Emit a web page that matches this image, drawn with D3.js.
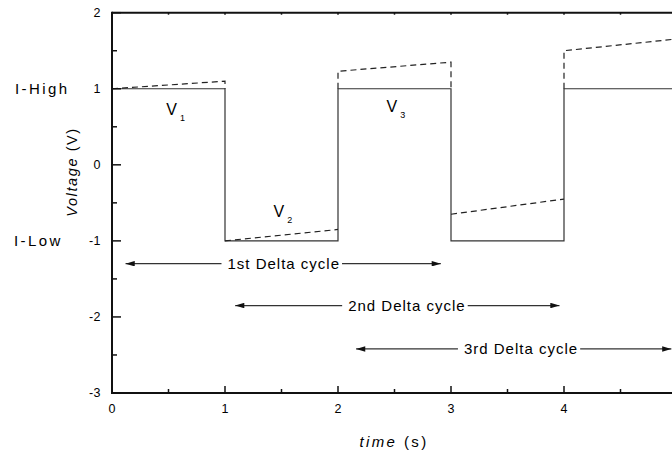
<!DOCTYPE html>
<html>
<head>
<meta charset="utf-8">
<script src="https://cdn.jsdelivr.net/npm/d3@7"></script>
<style>
  body { margin: 0; background: #fff; }
  svg { display: block; font-family: "Liberation Sans", Arial, sans-serif; }
</style>
</head>
<body>
<div id="chart"></div>
<script>
// square wave (current reversal) - solid line
const waveT = [0, 1, 1, 2, 2, 3, 3, 4, 4, 5];
const waveV = [1, 1, -1, -1, 1, 1, -1, -1, 1, 1];

// measured voltage with thermal drift - dashed pieces
const drift1 = [[0, 1], [1, 1.1], [1, 1]];
const drift2 = [[1, -1], [2, -0.85]];
const drift3 = [[2, 1], [2, 1.23], [3, 1.35], [3, 1]];
const drift4 = [[3, -0.65], [4, -0.45]];
const drift5 = [[4, 1], [4, 1.5], [5, 1.655]];

// V labels
const vNames = ["1", "2", "3"];
const vT = [0.48, 1.43, 2.43];
const vV = [0.65, -0.68, 0.69];

// delta cycle arrows
const cycleNames = ["1st Delta cycle", "2nd Delta cycle", "3rd Delta cycle"];
const cycleStart = [0.12, 1.09, 2.16];
const cycleEnd = [2.91, 3.96, 4.95];
const cycleV = [-1.3, -1.85, -2.42];
const cycleTextT = [1.52, 2.61, 3.62];

const yTicks = [-3, -2, -1, 0, 1, 2];
const yMinor = [-2.5, -1.5, -0.5, 0.5, 1.5];
const xTicks = [0, 1, 2, 3, 4];
const xMinor = [0.5, 1.5, 2.5, 3.5, 4.5];

const width = 672, height = 452;

const x = d3.scaleLinear().domain([0, 5]).range([112, 677]);
const y = d3.scaleLinear().domain([-3, 2]).range([393, 12.7]);

const svg = d3.select("#chart").append("svg")
  .attr("width", width)
  .attr("height", height);

// arrowhead
svg.append("defs").append("marker")
  .attr("id", "head")
  .attr("viewBox", "0 0 10 6")
  .attr("refX", 10).attr("refY", 3)
  .attr("markerWidth", 12).attr("markerHeight", 5.5)
  .attr("markerUnits", "userSpaceOnUse")
  .attr("orient", "auto-start-reverse")
  .append("path")
  .attr("d", "M0,0 L10,3 L0,6 Z")
  .attr("fill", "#111");

// square wave
const line = d3.line().x(d => x(d[0])).y(d => y(d[1]));
svg.append("path")
  .datum(waveT.map((t, i) => [t, waveV[i]]))
  .attr("d", line)
  .attr("fill", "none")
  .attr("stroke", "#333")
  .attr("stroke-width", 1.2);

// dashed drift pieces
[drift1, drift2, drift3, drift4, drift5].forEach(seg => {
  svg.append("path")
    .datum(seg)
    .attr("d", line)
    .attr("fill", "none")
    .attr("stroke", "#222")
    .attr("stroke-width", 1.2)
    .attr("stroke-dasharray", "6,4");
});

// axes
const ax = svg.append("g").attr("stroke", "#111").attr("fill", "none");
ax.append("line").attr("x1", x(0)).attr("x2", width).attr("y1", y(-3)).attr("y2", y(-3)).attr("stroke-width", 2);
ax.append("line").attr("x1", x(0)).attr("x2", width).attr("y1", y(2)).attr("y2", y(2)).attr("stroke-width", 2);
ax.append("line").attr("x1", x(0)).attr("x2", x(0)).attr("y1", y(2) - 1).attr("y2", y(-3) + 1).attr("stroke-width", 2);

yTicks.forEach(v => {
  ax.append("line").attr("x1", x(0)).attr("x2", x(0) + 9).attr("y1", y(v)).attr("y2", y(v)).attr("stroke-width", 1.5);
});
yMinor.forEach(v => {
  ax.append("line").attr("x1", x(0)).attr("x2", x(0) + 5).attr("y1", y(v)).attr("y2", y(v)).attr("stroke-width", 1.5);
});
xTicks.forEach(t => {
  ax.append("line").attr("x1", x(t)).attr("x2", x(t)).attr("y1", y(-3)).attr("y2", y(-3) - 7).attr("stroke-width", 1.5);
});
xMinor.forEach(t => {
  ax.append("line").attr("x1", x(t)).attr("x2", x(t)).attr("y1", y(-3)).attr("y2", y(-3) - 4).attr("stroke-width", 1.5);
});
xTicks.concat(xMinor).forEach(t => {
  ax.append("line").attr("x1", x(t)).attr("x2", x(t)).attr("y1", y(2)).attr("y2", y(2) + 2).attr("stroke-width", 1.5);
});

// tick labels
svg.selectAll(".ylab").data(yTicks).enter().append("text")
  .attr("x", 101).attr("y", d => y(d))
  .attr("dy", "0.35em")
  .attr("text-anchor", "end")
  .attr("font-size", 12.5)
  .attr("letter-spacing", 0.5)
  .text(d => d);

svg.selectAll(".xlab").data(xTicks).enter().append("text")
  .attr("x", d => x(d)).attr("y", 409)
  .attr("dy", "0.35em")
  .attr("text-anchor", "middle")
  .attr("font-size", 12.5)
  .text(d => d);

// current level labels
svg.append("text").attr("x", 15).attr("y", y(1)).attr("dy", "0.35em")
  .attr("font-size", 15).attr("letter-spacing", 2.4).text("I-High");
svg.append("text").attr("x", 14).attr("y", y(-1)).attr("dy", "0.35em")
  .attr("font-size", 15).attr("letter-spacing", 2.4).text("I-Low");

// axis titles
const xt = svg.append("text").attr("x", 394).attr("y", 442).attr("dy", "0.35em")
  .attr("text-anchor", "middle").attr("font-size", 15).attr("letter-spacing", 2.4);
xt.append("tspan").attr("font-style", "italic").text("time");
xt.append("tspan").text(" (s)");

const yt = svg.append("text")
  .attr("transform", "translate(72,172) rotate(-90)")
  .attr("dy", "0.35em")
  .attr("text-anchor", "middle").attr("font-size", 14.5).attr("letter-spacing", 1.6);
yt.append("tspan").attr("font-style", "italic").text("Voltage");
yt.append("tspan").text(" (V)");

// V1..V3 labels
vNames.forEach((n, i) => {
  const t = svg.append("text")
    .attr("x", x(vT[i])).attr("y", y(vV[i]))
    .attr("font-size", 16);
  t.append("tspan").text("V");
  t.append("tspan").attr("font-size", 9).attr("dx", 3).attr("dy", 6).text(n);
});

// delta cycle arrows
cycleNames.forEach((name, i) => {
  const cy = y(cycleV[i]);
  const label = svg.append("text")
    .attr("x", x(cycleTextT[i])).attr("y", cy)
    .attr("dy", "0.35em")
    .attr("text-anchor", "middle")
    .attr("font-size", 15)
    .attr("letter-spacing", 1)
    .text(name);
  const w = label.node().getComputedTextLength();
  const cx = x(cycleTextT[i]);
  svg.append("line")
    .attr("x1", cx - w / 2 - 6).attr("x2", x(cycleStart[i]))
    .attr("y1", cy).attr("y2", cy)
    .attr("stroke", "#333").attr("stroke-width", 1.2)
    .attr("marker-end", "url(#head)");
  svg.append("line")
    .attr("x1", cx + w / 2 + 2).attr("x2", x(cycleEnd[i]))
    .attr("y1", cy).attr("y2", cy)
    .attr("stroke", "#333").attr("stroke-width", 1.2)
    .attr("marker-end", "url(#head)");
});
</script>
</body>
</html>
